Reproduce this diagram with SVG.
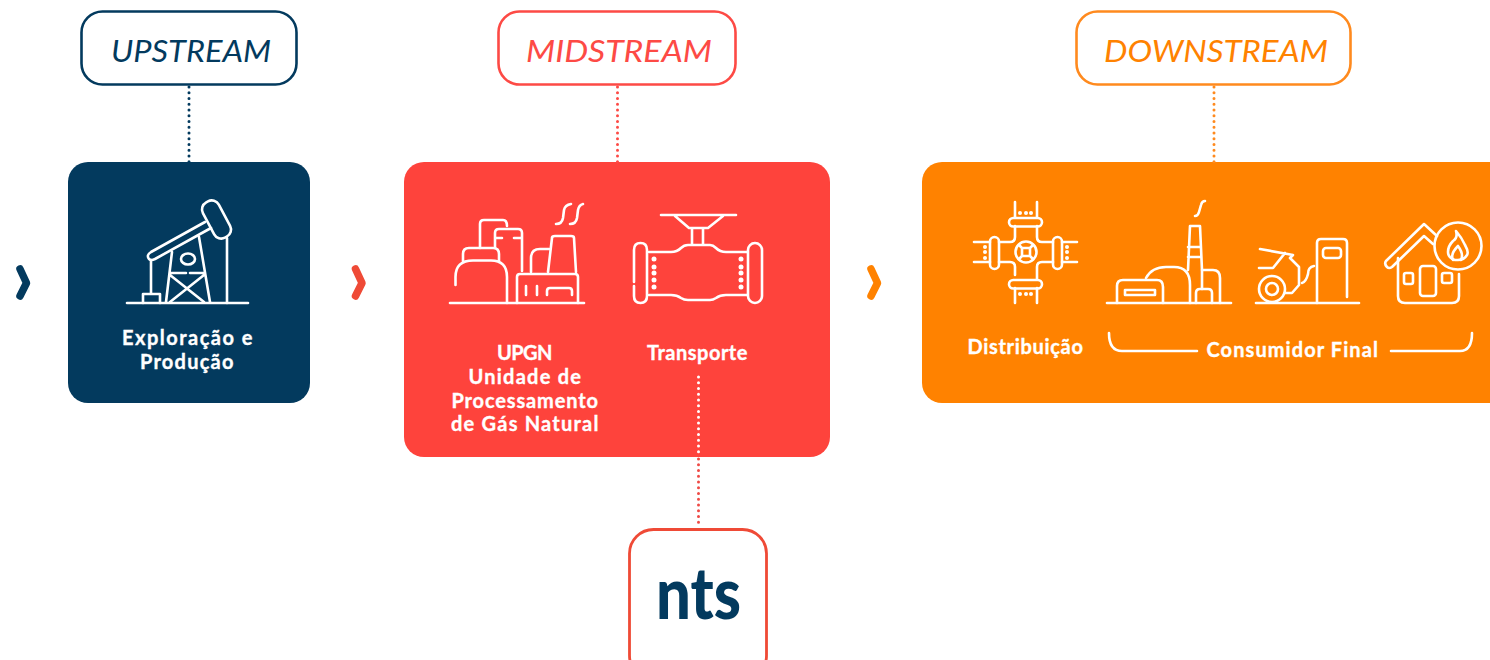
<svg xmlns="http://www.w3.org/2000/svg" width="1490" height="660" viewBox="0 0 1490 660">
<style>
.ic{fill:none;stroke:#fff;stroke-width:2.6;stroke-linecap:round;stroke-linejoin:round}
.dot{fill:#fff}
.lb{font-family:"Lato","Liberation Sans",sans-serif;font-weight:700;font-size:20px;fill:#fff;stroke:#fff;stroke-width:.35px;text-anchor:middle;letter-spacing:.6px}
.hd{font-family:"Lato","Liberation Sans",sans-serif;font-weight:400;font-style:italic;font-size:30px;text-anchor:middle}
.hb{fill:#fff;stroke-width:2.6}
.cn{fill:none;stroke-width:3;stroke-dasharray:0 5.750;stroke-linecap:round}
.ch{fill:none;stroke-width:7.500;stroke-linecap:round;stroke-linejoin:round}
</style>
<g id="chevrons">
<path class="ch" stroke="#033a5e" d="M20,269L26.500,283L20,296"/>
<path class="ch" stroke="#ef4a36" d="M355.500,269L362,283L355.500,296"/>
<path class="ch" stroke="#ff8200" d="M871,269L877.500,283L871,296"/>
</g>
<g id="upstream-label">
<rect class="hb" x="81.500" y="11.500" width="215" height="73" rx="21" stroke="#033a5e"/>
<text class="hd" x="191" y="62" fill="#033a5e" textLength="160" lengthAdjust="spacingAndGlyphs">UPSTREAM</text>
</g>
<g id="midstream-label">
<rect class="hb" x="498.500" y="11.500" width="237" height="73" rx="21" stroke="#fd4a45"/>
<text class="hd" x="619" y="62" fill="#fd4a45" textLength="186" lengthAdjust="spacingAndGlyphs">MIDSTREAM</text>
</g>
<g id="downstream-label">
<rect class="hb" x="1076.500" y="11.500" width="274" height="73" rx="21" stroke="#ff8a1e"/>
<text class="hd" x="1216" y="62" fill="#ff8200" textLength="224" lengthAdjust="spacingAndGlyphs">DOWNSTREAM</text>
</g>
<g id="upstream-panel">
<rect x="68" y="162" width="242" height="241" rx="20" fill="#033a5e"/>
<g class="ic">
<path d="M127,303H248"/>
<rect x="207.500" y="199.500" width="18" height="40" rx="8" transform="rotate(-28 216.500 219.500)"/>
<path d="M205,222L151,252Q146,255 149,259Q151,261 155,259L211,228"/>
<path d="M227,238V303M151,260V294M143,303V294H160V303"/>
<path d="M172,252L166,302M199,237L210,302M170,273H186M190,273H205M170,275L204,302M204,275L170,302"/>
<ellipse cx="188" cy="259" rx="7" ry="5.500"/>
</g>
<text class="lb" x="187.500" y="345" textLength="131">Exploração e</text>
<text class="lb" x="187" y="369" textLength="94">Produção</text>
</g>
<g id="midstream-panel">
<rect x="404" y="162" width="426" height="295" rx="20" fill="#fe433c"/>
<g class="ic">
<path d="M450,303H584"/>
<path d="M455.500,285V277Q455.500,260.500 473,260.500H491Q507,260.500 507,277V303"/>
<path d="M463,261V254Q463,248 469,248H493Q499,248 499,254V261"/>
<path d="M480,248V224Q480,220 484,220H503Q507,220 507,226"/>
<path d="M495,248V233Q495,229 499,229H518Q522,229 522,233V271"/>
<path d="M496,238H502M514,238H521"/>
<path d="M517,303V277Q517,274 520,274H575Q578,274 578,277V303"/>
<path d="M526,286V295M537,286V295M547,295V291Q547,288 550,288H569Q572,288 572,291V295"/>
<path d="M548,272L552,238Q552,236 555,236H571Q574,236 574,238L576,272"/>
<path d="M531,272V258Q531,249 540,249H549"/>
<path d="M556,224Q562,224 563,218L564,210Q565,205 571,204M570,224Q576,224 577,218L578,210Q579,205 583,204"/>
</g>
<g class="ic">
<path d="M661,215H736M675,216L689,228H708L723,216M692,229V244M703,229V244"/>
<path d="M649,252H671Q677,252 681,248Q684,245 688,245H710Q713,245 716,248Q720,252 726,252H747"/>
<path d="M649,295H671Q677,295 681,298Q684,300 688,300H710Q713,300 716,298Q720,295 726,295H747"/>
<path d="M634,286V296Q634,303 640.500,303Q647,303 647,296V250Q647,243 640.500,243Q634,243 634,250V282"/>
<rect x="748" y="243" width="14" height="60" rx="7"/>
</g>
<g class="dot">
<circle cx="654" cy="259" r="2.500"/><circle cx="654" cy="267" r="2.500"/><circle cx="654" cy="273" r="2.500"/><circle cx="654" cy="280" r="2.500"/><circle cx="654" cy="287" r="2.500"/>
<circle cx="741" cy="259" r="2.500"/><circle cx="741" cy="267" r="2.500"/><circle cx="741" cy="273" r="2.500"/><circle cx="741" cy="280" r="2.500"/><circle cx="741" cy="287" r="2.500"/>
</g>
<text class="lb" x="525" y="360" textLength="56">UPGN</text>
<text class="lb" x="525" y="384" textLength="113">Unidade de</text>
<text class="lb" x="525" y="408" textLength="147">Processamento</text>
<text class="lb" x="525" y="431" textLength="148">de Gás Natural</text>
<text class="lb" x="697.500" y="360" textLength="101">Transporte</text>
</g>
<g id="downstream-panel">
<rect x="922" y="162" width="600" height="241" rx="20" fill="#ff8200"/>
<g class="ic">
<path d="M1015,202V217M1037,202V217M1015,288V303M1037,288V303M974,242H990M974,262H990M1062,242H1077M1062,262H1077"/>
<rect x="1009" y="218" width="33" height="8.500" rx="4.200"/>
<rect x="1009" y="280" width="33" height="8.500" rx="4.200"/>
<rect x="990" y="237" width="9" height="32" rx="4.500"/>
<rect x="1053" y="237" width="9" height="32" rx="4.500"/>
<path d="M1015,226V237Q1015,242 1010,242H999M1037,226V237Q1037,242 1042,242H1053M999,262H1010Q1015,262 1015,267V275M1053,262H1042Q1037,262 1037,267V279"/>
<circle cx="1026" cy="252" r="10.500"/>
<rect x="1022" y="248" width="8" height="8" rx="1"/>
<path d="M1019,245L1022,248M1033,245L1030,248M1019,259L1022,256M1033,259L1030,256"/>
</g>
<g class="dot">
<circle cx="1020" cy="213" r="2"/><circle cx="1026" cy="213" r="2"/><circle cx="1031" cy="213" r="2"/>
<circle cx="1020" cy="294" r="2"/><circle cx="1026" cy="294" r="2"/><circle cx="1031" cy="294" r="2"/>
<circle cx="985" cy="247" r="2"/><circle cx="985" cy="252" r="2"/><circle cx="985" cy="258" r="2"/>
<circle cx="1067" cy="247" r="2"/><circle cx="1067" cy="252" r="2"/><circle cx="1067" cy="258" r="2"/>
</g>
<g class="ic">
<path d="M1107,303H1231"/>
<path d="M1195,216Q1198,216 1199,212L1201,205Q1202,201 1205,201"/>
<path d="M1188,270L1190,226H1200L1202,270V289M1188,247H1201M1188,257H1201"/>
<path d="M1146,278Q1152,267 1166,267H1174Q1190,267 1190,285V303"/>
<path d="M1117,303V286Q1117,280 1123,280H1157Q1163,280 1163,287V303"/>
<rect x="1125" y="290" width="30" height="5"/>
<path d="M1202,270H1213Q1220,270 1220,278V303"/>
<path d="M1196,303V293Q1196,289 1200,289H1208Q1212,289 1212,293V303"/>
</g>
<g class="ic">
<path d="M1256,303H1359"/>
<path d="M1317,303V243Q1317,239 1321,239H1343Q1347,239 1347,243V297"/>
<rect x="1323" y="248" width="18" height="10" rx="3"/>
<path d="M1314,266Q1308,267 1308,274Q1306,282 1302,283"/>
<circle cx="1272" cy="289" r="13"/><circle cx="1272" cy="289" r="6"/>
<path d="M1260,249L1293,255L1290,258L1299,267V285L1292,293H1285M1285,253L1273,268H1259"/>
</g>
<g class="ic">
<path d="M1437,236L1424,224L1386,261Q1384,264 1387,267Q1389,269 1392,267L1424,236L1433,244"/>
<path d="M1398,258V296Q1398,303 1405,303H1452Q1459,303 1459,296V274"/>
<rect x="1420" y="266" width="16" height="30" rx="3"/>
<rect x="1404" y="273" width="9" height="11" rx="2"/>
<rect x="1442" y="273" width="10" height="10" rx="2"/>
<circle cx="1458" cy="246" r="23.500"/>
<path d="M1456,231Q1462,238 1465,245Q1469,252 1467,255Q1464,260 1458,260H1455Q1448,258 1448,252Q1448,246 1453,241Q1458,238 1456,231Z"/>
<path d="M1453,260Q1450,254 1458,246Q1464,254 1461,260"/>
</g>
<path class="ic" d="M1109,333Q1109,351 1122,351H1197M1391,351H1460Q1472,351 1472,333"/>
<text class="lb" x="1025.500" y="354" textLength="116">Distribuição</text>
<text class="lb" x="1292.500" y="357" textLength="172">Consumidor Final</text>
</g>
<g id="nts-node">
<rect x="629.500" y="529.500" width="137" height="150" rx="24" fill="#fff" stroke="#ef4a36" stroke-width="2.800"/>
<text x="698.500" y="619" font-family="Lato,'Liberation Sans',sans-serif" font-weight="900" font-size="73" fill="#033a5e" text-anchor="middle" textLength="85" lengthAdjust="spacingAndGlyphs">nts</text>
</g>
<g id="connectors">
<path class="cn" stroke="#033a5e" d="M189,87V162"/>
<path class="cn" stroke="#fd4a45" d="M617.500,87V162"/>
<path class="cn" stroke="#ff8a1e" d="M1214,87V162"/>
<path class="cn" stroke="#fff" d="M698.500,377V455"/>
<path class="cn" stroke="#ef4a45" d="M698.500,459V528"/>
</g>
</svg>
